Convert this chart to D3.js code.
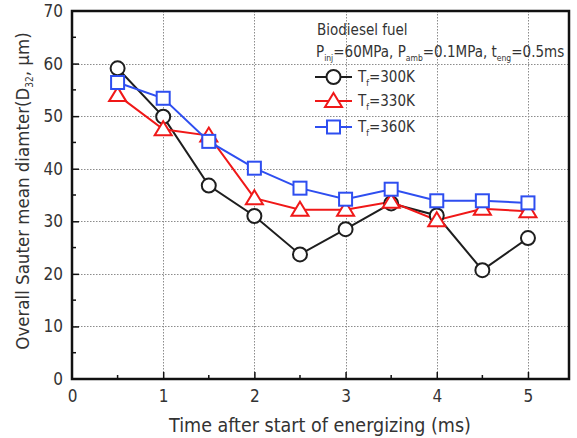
<!DOCTYPE html>
<html>
<head>
<meta charset="utf-8">
<script src="https://cdn.jsdelivr.net/npm/d3@7"></script>
<style>
  body { margin: 0; background: #fff; }
  text { font-family: "DejaVu Sans Condensed", "DejaVu Sans", sans-serif; fill: #333; }
</style>
</head>
<body>
<div id="chart"></div>
<script>
var svgWidth = 577;
var svgHeight = 438;

var margin = { top: 11, right: 8, bottom: 59, left: 72 };
var width = svgWidth - margin.left - margin.right;
var height = svgHeight - margin.top - margin.bottom;

// data
var times = [0.5, 1, 1.5, 2, 2.5, 3, 3.5, 4, 4.5, 5];
var t300 = [59.1, 49.9, 36.8, 31.0, 23.7, 28.5, 33.4, 31.1, 20.7, 26.8];
var t330 = [54.0, 47.5, 46.3, 34.4, 32.2, 32.2, 33.7, 30.2, 32.4, 31.9];
var t360 = [56.4, 53.4, 45.2, 40.1, 36.3, 34.2, 36.1, 33.9, 33.9, 33.5];
var xTicks = [0, 1, 2, 3, 4, 5];
var yTicks = [0, 10, 20, 30, 40, 50, 60, 70];

var series = [
  { label: "300K", values: t300, color: "#1e1e1e", shape: "circle" },
  { label: "330K", values: t330, color: "#f01818", shape: "triangle" },
  { label: "360K", values: t360, color: "#2e4ef0", shape: "square" }
];

var svg = d3.select("#chart")
  .append("svg")
  .attr("width", svgWidth)
  .attr("height", svgHeight);

// dotted fill patterns for the grid
var defs = svg.append("defs");
defs.append("pattern").attr("id", "dotsH")
  .attr("patternUnits", "userSpaceOnUse").attr("width", 3).attr("height", 2)
  .append("rect").attr("width", 1.5).attr("height", 2).attr("fill", "#8c8c8c");
defs.append("pattern").attr("id", "dotsV")
  .attr("patternUnits", "userSpaceOnUse").attr("width", 2).attr("height", 3)
  .append("rect").attr("width", 2).attr("height", 1.5).attr("fill", "#8c8c8c");

var chartGroup = svg.append("g")
  .attr("transform", `translate(${margin.left}, ${margin.top})`);

var x = d3.scaleLinear().domain([0, 5.45]).range([0, width]);
var y = d3.scaleLinear().domain([0, 70]).range([height, 0]);

// grid, drawn as thin filled rects
chartGroup.selectAll("rect.gx").data(xTicks.slice(1))
  .enter().append("rect")
  .attr("class", "gx")
  .attr("x", d => Math.round(x(d))).attr("y", 0)
  .attr("width", 1).attr("height", height)
  .attr("fill", "url(#dotsV)");

chartGroup.selectAll("rect.gy").data(yTicks.slice(1, -1))
  .enter().append("rect")
  .attr("class", "gy")
  .attr("x", 0).attr("y", d => Math.round(y(d)))
  .attr("width", width).attr("height", 1)
  .attr("fill", "url(#dotsH)");

// axes with inward ticks
var bottomAxis = d3.axisBottom(x).tickValues(xTicks).tickFormat(d3.format("d")).tickSize(-7).tickPadding(11);
var leftAxis = d3.axisLeft(y).tickValues(yTicks).tickFormat(d3.format("d")).tickSize(-7).tickPadding(9);

var gx = chartGroup.append("g")
  .attr("transform", `translate(0, ${height})`)
  .call(bottomAxis);
var gy = chartGroup.append("g").call(leftAxis);

// minor ticks
chartGroup.selectAll("line.mx").data(d3.range(0.5, 5.5, 1))
  .enter().append("line")
  .attr("class", "mx")
  .attr("x1", d => x(d)).attr("x2", d => x(d))
  .attr("y1", height).attr("y2", height - 4)
  .attr("stroke", "#111").attr("stroke-width", 1.5);
chartGroup.selectAll("line.my").data(d3.range(5, 70, 10))
  .enter().append("line")
  .attr("class", "my")
  .attr("x1", 0).attr("x2", 4)
  .attr("y1", d => y(d)).attr("y2", d => y(d))
  .attr("stroke", "#111").attr("stroke-width", 1.5);

[gx, gy].forEach(g => {
  g.select(".domain").remove();
  g.selectAll(".tick line").attr("stroke", "#111").attr("stroke-width", 1.5);
  g.selectAll(".tick text").style("font-size", "17px").style("fill", "#333");
});
gx.selectAll(".tick").filter(d => d === 0).select("line").remove();
gy.selectAll(".tick").filter(d => d === 0 || d === 70).select("line").remove();

// frame
chartGroup.append("rect")
  .attr("width", width).attr("height", height)
  .attr("fill", "none").attr("stroke", "#111").attr("stroke-width", 2.5);

// lines
var line = d3.line().x((d, i) => x(times[i])).y(d => y(d));

series.forEach(s => {
  chartGroup.append("path")
    .datum(s.values)
    .attr("fill", "none")
    .attr("stroke", s.color)
    .attr("stroke-width", 2)
    .attr("d", line);
});

function drawMarker(g, shape, color, cx, cy) {
  if (shape === "circle") {
    g.append("circle").attr("cx", cx).attr("cy", cy).attr("r", 7)
      .attr("fill", "#fff").attr("stroke", color).attr("stroke-width", 2);
  } else if (shape === "triangle") {
    g.append("path")
      .attr("d", `M${cx},${cy - 8} L${cx + 8.5},${cy + 6} L${cx - 8.5},${cy + 6} Z`)
      .attr("fill", "#fff").attr("stroke", color).attr("stroke-width", 2);
  } else {
    g.append("rect").attr("x", cx - 6.5).attr("y", cy - 6.5).attr("width", 13).attr("height", 13)
      .attr("fill", "#fff").attr("stroke", color).attr("stroke-width", 2);
  }
}

series.forEach(s => {
  s.values.forEach((v, i) => drawMarker(chartGroup, s.shape, s.color, x(times[i]), y(v)));
});

// legend
var legend = svg.append("g");
legend.append("text").attr("x", 317).attr("y", 35)
  .style("font-size", "15px").text("Biodiesel fuel");

var cond = legend.append("text").attr("x", 316).attr("y", 57).style("font-size", "15px");
cond.append("tspan").text("P");
cond.append("tspan").attr("dy", 4).style("font-size", "8.5px").text("inj");
cond.append("tspan").attr("dy", -4).text("=60MPa, P");
cond.append("tspan").attr("dy", 4).style("font-size", "8.5px").text("amb");
cond.append("tspan").attr("dy", -4).text("=0.1MPa, t");
cond.append("tspan").attr("dy", 4).style("font-size", "8.5px").text("eng");
cond.append("tspan").attr("dy", -4).text("=0.5ms");

var legendY = [77, 101, 127];
series.forEach((s, i) => {
  var ly = legendY[i];
  legend.append("line").attr("x1", 315).attr("x2", 352).attr("y1", ly).attr("y2", ly)
    .attr("stroke", s.color).attr("stroke-width", 2);
  drawMarker(legend, s.shape, s.color, 333.5, ly);
  var t = legend.append("text").attr("x", 358).attr("y", ly + 5).style("font-size", "15px");
  t.append("tspan").text("T");
  t.append("tspan").attr("dy", 4).style("font-size", "8.5px").text("f");
  t.append("tspan").attr("dy", -4).text("=" + s.label);
});

// axis titles
var yTitle = svg.append("text")
  .attr("transform", `translate(29, ${margin.top + 180}) rotate(-90)`)
  .attr("text-anchor", "middle")
  .style("font-size", "18.5px");
yTitle.append("tspan").text("Overall Sauter mean diamter(D");
yTitle.append("tspan").attr("dy", 4).style("font-size", "10px").text("32");
yTitle.append("tspan").attr("dy", -4).text(", \u03bcm)");

svg.append("text")
  .attr("x", 320).attr("y", 432)
  .attr("text-anchor", "middle")
  .style("font-size", "19.5px")
  .text("Time after start of energizing (ms)");
</script>
</body>
</html>
